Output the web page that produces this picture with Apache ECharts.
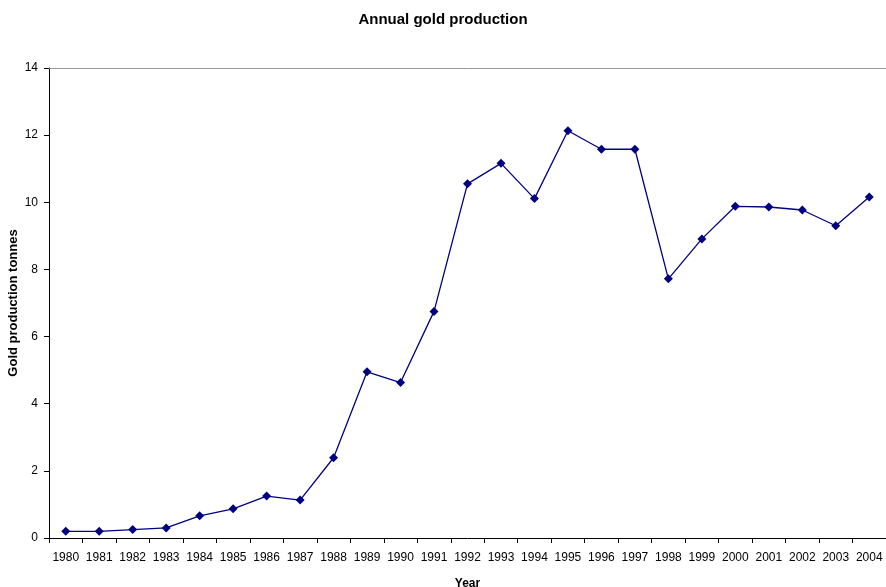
<!DOCTYPE html>
<html>
<head>
<meta charset="utf-8">
<script src="https://cdn.jsdelivr.net/npm/echarts@6/dist/echarts.min.js"></script>
<style>
html,body{margin:0;padding:0;background:#fff;}
#chart{width:886px;height:587px;}
</style>
</head>
<body>
<div id="chart"></div>
<script>
const years = ['1980','1981','1982','1983','1984','1985','1986','1987','1988','1989','1990','1991','1992','1993','1994','1995','1996','1997','1998','1999','2000','2001','2002','2003','2004'];
const production = [0.2,0.2,0.25,0.3,0.66,0.87,1.25,1.13,2.39,4.95,4.63,6.75,10.55,11.16,10.11,12.13,11.58,11.58,7.72,8.91,9.88,9.86,9.77,9.3,10.16];

const chart = echarts.init(document.getElementById('chart'), null, {renderer:'canvas'});
const font = 'Liberation Sans, Arial, sans-serif';
chart.setOption({
  animation:false,
  backgroundColor:'#fff',
  title:{
    text:'Annual gold production',
    left:'center', top:7,
    textStyle:{fontFamily:font, fontSize:15, fontWeight:'bold', color:'#000'}
  },
  grid:{left:49, right:0, top:68, bottom:49, containLabel:false, outerBoundsMode:'none'},
  xAxis:[{
    type:'category',
    data:years,
    boundaryGap:true,
    name:'Year',
    nameLocation:'middle',
    nameGap:40,
    nameMoveOverlap:false,
    nameTextStyle:{fontFamily:font, fontSize:12, fontWeight:'bold', color:'#000'},
    axisLine:{lineStyle:{color:'#000', width:1}},
    axisTick:{show:true, alignWithLabel:false, length:5, lineStyle:{color:'#000'}},
    axisLabel:{fontFamily:font, fontSize:12, color:'#000', margin:14, interval:0},
    splitLine:{show:false}
  },{
    type:'category',
    position:'top',
    data:years,
    axisLine:{lineStyle:{color:'#999', width:1}},
    axisTick:{show:false},
    axisLabel:{show:false},
    splitLine:{show:false}
  }],
  yAxis:{
    type:'value',
    min:0, max:14, interval:2,
    name:'Gold production tonnes',
    nameLocation:'middle',
    nameGap:29,
    nameMoveOverlap:false,
    nameRotate:90,
    nameTextStyle:{fontFamily:font, fontSize:13, fontWeight:'bold', color:'#000'},
    axisLine:{show:true, lineStyle:{color:'#000', width:1}},
    axisTick:{show:true, length:5, lineStyle:{color:'#000'}},
    axisLabel:{fontFamily:font, fontSize:12, color:'#000', margin:11},
    splitLine:{show:false}
  },
  series:[{
    type:'line',
    data:production,
    symbol:'diamond',
    symbolSize:9,
    lineStyle:{color:'#000080', width:1.3},
    itemStyle:{color:'#000080'}
  }]
});
</script>
</body>
</html>
